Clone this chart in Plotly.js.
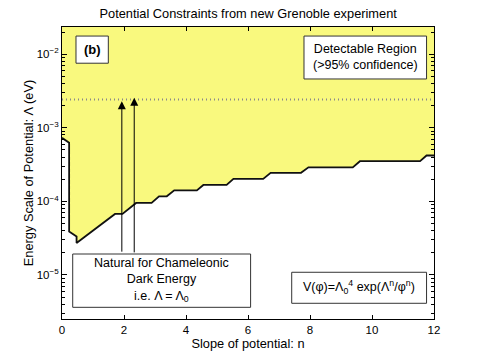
<!DOCTYPE html>
<html><head><meta charset="utf-8">
<script src="https://cdn.plot.ly/plotly-3.0.1.min.js"></script>
<style>body{margin:0;background:#fff}#plot{width:480px;height:361px}</style>
</head><body><div id="plot"></div>
<script>
// Boundary of detectable region (slope n vs energy scale Λ in eV)
const slopeN = [0, 0.23, 0.23, 0.47, 0.47, 1.71, 1.95, 2.39, 2.89, 3.13, 3.38, 3.62, 4.35, 4.56, 5.31, 5.53, 6.49, 6.73, 7.71, 7.95, 9.38, 9.61, 11.55, 11.76, 12];
const lambdaEV = [7.3e-4, 6.25e-4, 3.9e-5, 3.33e-5, 2.71e-5, 6.73e-5, 6.73e-5, 9.5e-5, 9.5e-5, 1.17e-4, 1.17e-4, 1.41e-4, 1.41e-4, 1.67e-4, 1.67e-4, 2.02e-4, 2.02e-4, 2.44e-4, 2.44e-4, 2.9e-4, 2.9e-4, 3.51e-4, 3.51e-4, 4.2e-4, 4.2e-4];
const topN = [0, 12];
const topLambda = [1, 1];
const lambda0 = 2.43e-3;          // dark energy scale
const arrowN = [1.93, 2.33];
const arrowTip = [2.3e-3, 2.55e-3];
const yTickVals = [1e-5, 1e-4, 1e-3, 1e-2];
const yTickText = ['10<sup>−5</sup>', '10<sup>−4</sup>', '10<sup>−3</sup>', '10<sup>−2</sup>'];
const xTickVals = [0, 2, 4, 6, 8, 10, 12];

const minorVals = [];
for (let e = -6; e <= -1; e++) for (let m = 2; m <= 9; m++) minorVals.push(m * Math.pow(10, e));

const yellow = '#f9f97e';
const traces = [
  {x: topN, y: topLambda, mode: 'lines', line: {width: 0}, hoverinfo: 'skip', showlegend: false},
  {x: slopeN, y: lambdaEV, mode: 'lines', fill: 'tonexty', fillcolor: yellow,
   line: {color: '#111', width: 1.8}, showlegend: false},
  {x: topN, y: [lambda0, lambda0], mode: 'lines', line: {color: '#888', width: 2, dash: '1px,3px'}, showlegend: false}
];

const FF = 'Liberation Sans, Arial, sans-serif';
const font = {family: FF, size: 12.5, color: '#000'};
const ann = (x, y, text, f) => ({xref: 'paper', yref: 'paper', x: x, y: y, xanchor: 'center', yanchor: 'middle', text: text, showarrow: false, font: f || font});
const annotations = [
  ann(0.081, 0.922, '<b>(b)</b>', {family: FF, size: 13, color: '#000'}),
  ann(0.815, 0.896, 'Detectable Region<br>(>95% confidence)'),
  ann(0.268, 0.132, 'Natural for Chameleonic<br>Dark Energy<br>i.e. Λ = Λ<sub>0</sub>'),
  ann(0.799, 0.108, 'V(φ)=Λ<sub>0</sub><sup>4</sup> exp(Λ<sup>n</sup>/φ<sup>n</sup>)')
];
for (let i = 0; i < arrowN.length; i++) {
  annotations.push({xref: 'x', yref: 'y', x: arrowN[i], y: Math.log10(arrowTip[i]), axref: 'pixel', ayref: 'pixel',
    ax: 0, ay: 152 + (i === 0 ? 0 : 4), showarrow: true, arrowhead: 2, arrowsize: 1.6, arrowwidth: 1, arrowcolor: '#000', text: ''});
}

const shapes = [
  {type: 'rect', xref: 'paper', yref: 'paper', x0: 0.0376, x1: 0.1245, y0: 0.876, y1: 0.969, line: {color: '#333', width: 1}, fillcolor: '#fff'},
  {type: 'rect', xref: 'paper', yref: 'paper', x0: 0.6505, x1: 0.980, y0: 0.822, y1: 0.969, line: {color: '#333', width: 1}, fillcolor: '#fff'},
  {type: 'rect', xref: 'paper', yref: 'paper', x0: 0.0288, x1: 0.507, y0: 0.040, y1: 0.2226, line: {color: '#333', width: 1}, fillcolor: '#fff'},
  {type: 'rect', xref: 'paper', yref: 'paper', x0: 0.6175, x1: 0.980, y0: 0.0538, y1: 0.160, line: {color: '#333', width: 1}, fillcolor: '#fff'}
];

const layout = {
  width: 480, height: 361,
  margin: {l: 62, r: 46, t: 27, b: 42},
  paper_bgcolor: '#fff', plot_bgcolor: '#fff',
  font: font,
  title: {text: 'Potential Constraints from new Grenoble experiment', font: {family: FF, size: 12.8, color: '#000'}, x: 0.517, xanchor: 'center', y: 0.962, yanchor: 'middle'},
  xaxis: {range: [0, 12], tickvals: xTickVals, ticks: 'inside', ticklen: 4, tickcolor: '#000', showline: true, linecolor: '#000', linewidth: 1,
    mirror: 'ticks', showgrid: false, zeroline: false, tickfont: {family: FF, size: 11.5},
    title: {text: 'Slope of potential: n', font: {family: FF, size: 12.8}, standoff: 3}},
  yaxis: {type: 'log', range: [-5.6, -1.63], tickvals: yTickVals, ticktext: yTickText, ticks: 'inside', ticklen: 5, tickcolor: '#000',
    showline: true, linecolor: '#000', linewidth: 1, mirror: 'ticks', showgrid: false, zeroline: false, tickfont: {family: FF, size: 11.5},
    minor: {tickvals: minorVals, ticks: 'inside', ticklen: 3, tickcolor: '#000', showgrid: false},
    title: {text: 'Energy Scale of Potential: Λ (eV)', font: {family: FF, size: 12.8}, standoff: 0}},
  annotations: annotations,
  shapes: shapes
};
Plotly.newPlot('plot', traces, layout, {displayModeBar: false, staticPlot: true});
</script></body></html>
